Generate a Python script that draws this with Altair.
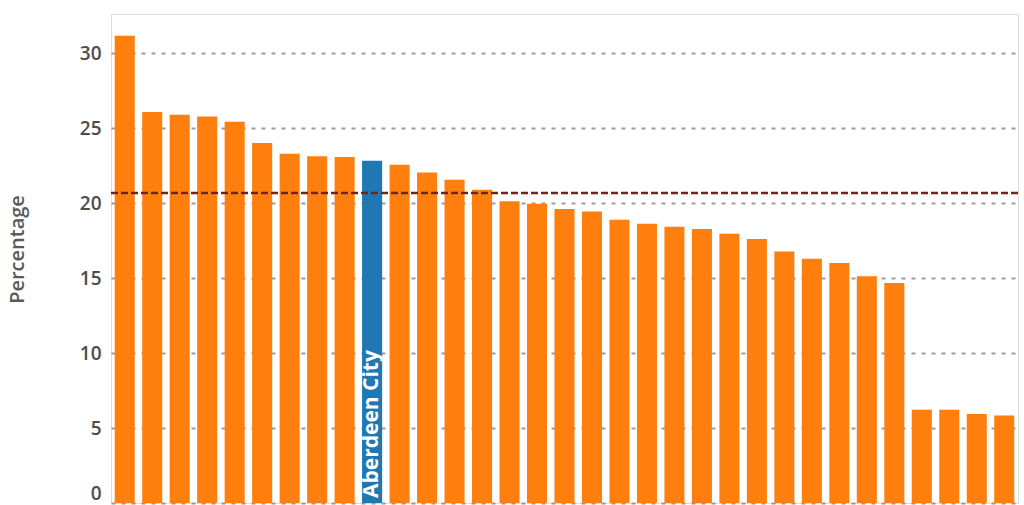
import altair as alt
import pandas as pd

# Council areas (only Aberdeen City is labelled in the reference)
areas = [f"Area {i}" for i in range(1, 10)] + ["Aberdeen City"] + [f"Area {i}" for i in range(11, 34)]
values = [31.15, 26.07, 25.89, 25.77, 25.42, 24.0, 23.29, 23.11, 23.07, 22.82,
          22.55, 22.04, 21.55, 20.89, 20.11, 19.95, 19.6, 19.44, 18.89, 18.62,
          18.42, 18.27, 17.95, 17.6, 16.77, 16.29, 16.0, 15.11, 14.67, 6.22,
          6.22, 5.93, 5.84]
highlight = "Aberdeen City"
mean_value = 20.67
y_ticks = [0, 5, 10, 15, 20, 25, 30]

df = pd.DataFrame({"area": areas, "pct": values})
df["group"] = ["highlight" if a == highlight else "other" for a in areas]

x_enc = alt.X("area:N", sort=areas, axis=None,
              scale=alt.Scale(paddingInner=0.27, paddingOuter=0.135))

bars = alt.Chart(df).mark_bar().encode(
    x=x_enc,
    y=alt.Y("pct:Q", title="Percentage",
            scale=alt.Scale(domain=[0, 32.6], nice=False, zero=True),
            axis=alt.Axis(values=y_ticks, ticks=False, domain=False,
                          labelFontSize=19, labelColor="#4d4d4d", labelFont="Open Sans",
                          labelFontWeight=600,
                          labelPadding=10, labelFlush=True,
                          titleFontSize=20, titleColor="#5a5a5a", titleFont="Open Sans",
                          titleFontWeight=600, titlePadding=52, titleY=235,
                          grid=True, gridColor="#8c8c8c", gridDash=[4, 6],
                          gridWidth=1.8, gridOpacity=0.85)),
    color=alt.Color("group:N", legend=None,
                    scale=alt.Scale(domain=["other", "highlight"],
                                    range=["#ff7f0e", "#1f77b4"])),
)

label = alt.Chart(df[df["group"] == "highlight"]).mark_text(
    angle=270, align="left", baseline="middle", color="white",
    fontSize=21, fontWeight="bold", font="Open Sans", dx=5,
).encode(
    x=x_enc,
    y=alt.datum(0),
    text="area:N",
)

mean_df = pd.DataFrame({"mean": [mean_value]})
mean_line = alt.Chart(mean_df).mark_rule(
    color="#6e2418", strokeDash=[7, 3], strokeWidth=2.4
).encode(y="mean:Q")

chart = alt.layer(bars, label, mean_line).properties(
    width=907, height=489,
    autosize=alt.AutoSizeParams(type="none"),
    padding={"left": 111, "top": 14, "right": 6, "bottom": 2},
).configure_view(stroke="#dddddd", strokeWidth=2).configure(background="white")

chart.save("out.html", embed_options={"renderer": "svg", "actions": False})
